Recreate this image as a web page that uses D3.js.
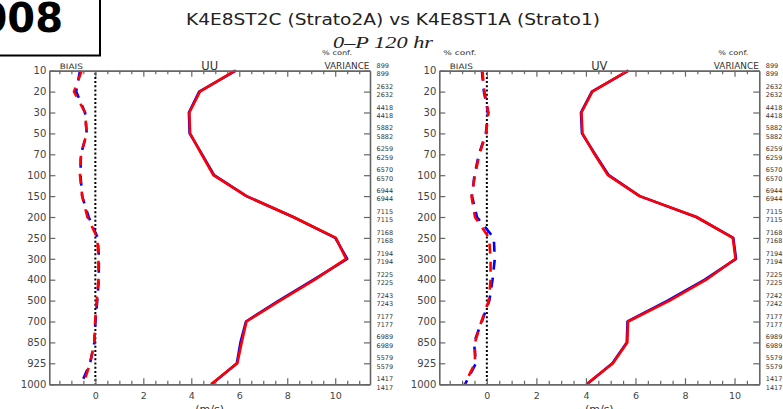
<!DOCTYPE html>
<html>
<head>
<meta charset="utf-8">
<script src="https://cdn.jsdelivr.net/npm/d3@7"></script>
<style>
  html, body { margin: 0; padding: 0; background: #fff; }
  svg { display: block; }
</style>
</head>
<body>
<svg id="chart" width="783" height="409"></svg>
<script>
// ---------- data ----------
const levels = ["10","20","30","50","70","100","150","200","250","300","400","500","700","850","925","1000"];
const countsUU = [899, 2632, 4418, 5882, 6259, 6570, 6944, 7115, 7168, 7194, 7225, 7243, 7177, 6989, 5579, 1417];
const countsUV = [899, 2632, 4418, 5882, 6259, 6570, 6944, 7115, 7168, 7194, 7225, 7242, 7177, 6989, 5579, 1417];

const uuStdBlue  = [5.86, 4.33, 3.90, 3.93, 4.45, 4.95, 6.30, 8.25, 10.00, 10.50, 9.10, 7.65, 6.28, 6.05, 5.90, 4.85];
const uuStdRed   = [5.82, 4.36, 3.92, 3.95, 4.43, 4.92, 6.30, 8.25, 10.03, 10.45, 9.15, 7.70, 6.30, 6.10, 5.92, 4.82];
const uuBiasBlue = [-0.64, -0.80, -0.43, -0.36, -0.60, -0.62, -0.55, -0.28, 0.10, 0.15, 0.14, 0.08, 0.00, -0.04, -0.22, -0.60];
const uuBiasRed  = [-0.57, -0.89, -0.43, -0.36, -0.60, -0.64, -0.55, -0.33, 0.08, 0.13, 0.13, 0.06, -0.01, -0.04, -0.22, -0.50];

const uvStdBlue  = [5.72, 4.24, 3.80, 3.84, 4.37, 4.92, 6.17, 8.45, 9.95, 10.06, 8.80, 7.30, 5.68, 5.65, 5.07, 4.04];
const uvStdRed   = [5.70, 4.26, 3.82, 3.86, 4.35, 4.89, 6.17, 8.47, 9.93, 10.04, 8.86, 7.38, 5.70, 5.67, 5.09, 4.02];
const uvBiasBlue = [-0.20, -0.12, 0.05, -0.04, -0.32, -0.50, -0.60, -0.40, 0.28, 0.32, 0.23, 0.10, -0.20, -0.52, -0.44, -0.88];
const uvBiasRed  = [-0.18, -0.10, 0.06, -0.03, -0.30, -0.48, -0.62, -0.48, 0.09, 0.15, 0.15, 0.08, -0.22, -0.48, -0.48, -0.90];

const xMajorTicks = [0, 2, 4, 6, 8, 10];
const titleText = "K4E8ST2C (Strato2A) vs K4E8ST1A (Strato1)";
const subtitleText = "0\u2013P 120 hr";

// ---------- layout ----------
const svg = d3.select("#chart");
const yTop = 70.7, yBottom = 384.2;
const y = d3.scalePoint().domain(levels).range([yTop, yBottom]).padding(0);

const panels = [
  { name: "UU", x0: 49.3, x1: 370, dom: [-1.92, 11.45], std: [uuStdBlue, uuStdRed], bias: [uuBiasBlue, uuBiasRed], counts: countsUU, showBiasConf: false, confDx: -48 },
  { name: "UV", x0: 439.3, x1: 759.3, dom: [-1.92, 11.0], std: [uvStdBlue, uvStdRed], bias: [uvBiasBlue, uvBiasRed], counts: countsUV, showBiasConf: true, confDx: -41 }
];

const axisColor = "#666";
const labelColor = "#444";
const colors = ["#0000ff", "#ff0000"];

panels.forEach(p => {
  const x = d3.scaleLinear().domain(p.dom).range([p.x0, p.x1]);
  const g = svg.append("g");
  const minor = d3.range(Math.ceil(p.dom[0] * 2) / 2, p.dom[1], 0.5).filter(v => !xMajorTicks.includes(v));

  // zero dotted line
  g.append("line")
    .attr("x1", x(0)).attr("x2", x(0)).attr("y1", yTop + 2).attr("y2", yBottom)
    .attr("stroke", "#000").attr("stroke-width", 2).attr("stroke-dasharray", "2,2.2");

  // lines
  const line = d3.line().x(d => x(d)).y((d, i) => y(levels[i]));
  p.bias.forEach((arr, k) => {
    g.append("path").datum(arr).attr("d", line)
      .attr("fill", "none").attr("stroke", colors[k]).attr("stroke-width", 2.6)
      .attr("stroke-dasharray", "10,8");
  });
  p.std.forEach((arr, k) => {
    g.append("path").datum(arr).attr("d", line)
      .attr("fill", "none").attr("stroke", colors[k]).attr("stroke-width", 2.6)
      .attr("stroke-linejoin", "round");
  });

  // axes
  const styleAxis = sel => {
    sel.select(".domain").attr("stroke", axisColor).attr("stroke-width", 1.6);
    sel.selectAll(".tick line").attr("stroke", axisColor).attr("stroke-width", 1.2);
    sel.selectAll(".tick text").attr("fill", labelColor).attr("font-family", "DejaVu Sans, sans-serif").attr("font-size", "9.5px");
  };
  g.append("g").attr("transform", `translate(0,${yBottom})`)
    .call(d3.axisBottom(x).tickValues(xMajorTicks).tickSize(-6).tickSizeOuter(0).tickPadding(8).tickFormat(d3.format("d")))
    .call(styleAxis);
  g.append("g").attr("transform", `translate(0,${yBottom})`)
    .call(d3.axisBottom(x).tickValues(minor).tickSize(-3.5).tickSizeOuter(0).tickFormat(""))
    .call(styleAxis);
  g.append("g").attr("transform", `translate(0,${yTop})`)
    .call(d3.axisTop(x).tickValues(xMajorTicks).tickSize(-6).tickSizeOuter(0).tickFormat(""))
    .call(styleAxis);
  g.append("g").attr("transform", `translate(0,${yTop})`)
    .call(d3.axisTop(x).tickValues(minor).tickSize(-3.5).tickSizeOuter(0).tickFormat(""))
    .call(styleAxis);
  g.append("g").attr("transform", `translate(${p.x0},0)`)
    .call(d3.axisLeft(y).tickSize(-6).tickSizeOuter(0).tickPadding(3))
    .call(styleAxis)
    .selectAll(".tick text").attr("font-size", "10px");
  g.append("g").attr("transform", `translate(${p.x1},0)`)
    .call(d3.axisRight(y).tickSize(-6).tickSizeOuter(0).tickFormat(""))
    .call(styleAxis);

  // labels
  const cx = (p.x0 + p.x1) / 2;
  g.append("text").attr("x", cx).attr("y", 69.5).attr("text-anchor", "middle")
    .attr("font-family", "DejaVu Sans, sans-serif").attr("font-size", "11.5px").attr("fill", "#333")
    .text(p.name);
  g.append("text").attr("x", p.x0 + 10.5).attr("y", 68.5)
    .attr("font-family", "DejaVu Sans, sans-serif").attr("font-size", "7.5px").attr("fill", "#333")
    .attr("textLength", 23).attr("lengthAdjust", "spacingAndGlyphs")
    .text("BIAIS");
  g.append("text").attr("x", p.x1 - 45.5).attr("y", 69)
    .attr("font-family", "DejaVu Sans, sans-serif").attr("font-size", "8.5px").attr("fill", "#333")
    .attr("textLength", 45).attr("lengthAdjust", "spacingAndGlyphs")
    .text("VARIANCE");
  g.append("text").attr("x", p.x1 + p.confDx).attr("y", 54.5)
    .attr("font-family", "DejaVu Sans, sans-serif").attr("font-size", "6.5px").attr("fill", "#333")
    .attr("textLength", 30).attr("lengthAdjust", "spacingAndGlyphs")
    .text("% conf.");
  if (p.showBiasConf) {
    g.append("text").attr("x", p.x0 + 4).attr("y", 54.5)
      .attr("font-family", "DejaVu Sans, sans-serif").attr("font-size", "6.5px").attr("fill", "#333")
      .attr("textLength", 33).attr("lengthAdjust", "spacingAndGlyphs")
      .text("% conf.");
  }
  g.append("text").attr("x", cx).attr("y", 413).attr("text-anchor", "middle")
    .attr("font-family", "DejaVu Sans, sans-serif").attr("font-size", "11px").attr("fill", "#333")
    .text("(m/s)");

  // counts
  const cg = g.append("g").attr("font-family", "DejaVu Sans, sans-serif").attr("font-size", "6.5px").attr("fill", "#333");
  p.counts.forEach((c, i) => {
    const yy = y(levels[i]);
    cg.append("text").attr("x", p.x1 + 6.5).attr("y", yy - 3).text(c);
    cg.append("text").attr("x", p.x1 + 6.5).attr("y", yy + 5.3).text(c);
  });
});

// title
svg.append("text").attr("x", 393).attr("y", 25).attr("text-anchor", "middle")
  .attr("font-family", "DejaVu Sans, sans-serif").attr("font-size", "15.5px").attr("fill", "#222")
  .attr("textLength", 414).attr("lengthAdjust", "spacingAndGlyphs")
  .text(titleText);
svg.append("text").attr("x", 383).attr("y", 48).attr("text-anchor", "middle")
  .attr("font-family", "Liberation Serif, serif").attr("font-style", "italic").attr("font-size", "17px").attr("fill", "#222")
  .attr("textLength", 100).attr("lengthAdjust", "spacingAndGlyphs")
  .text(subtitleText);

// corner box
svg.append("rect").attr("x", -2).attr("y", -2).attr("width", 102).attr("height", 57.5)
  .attr("fill", "#fff").attr("stroke", "#000").attr("stroke-width", 2);
svg.append("text").attr("x", 63).attr("y", 32).attr("text-anchor", "end")
  .attr("font-family", "DejaVu Sans, sans-serif").attr("font-weight", "bold").attr("font-size", "40px").attr("fill", "#000")
  .text("2008");
</script>
</body>
</html>
